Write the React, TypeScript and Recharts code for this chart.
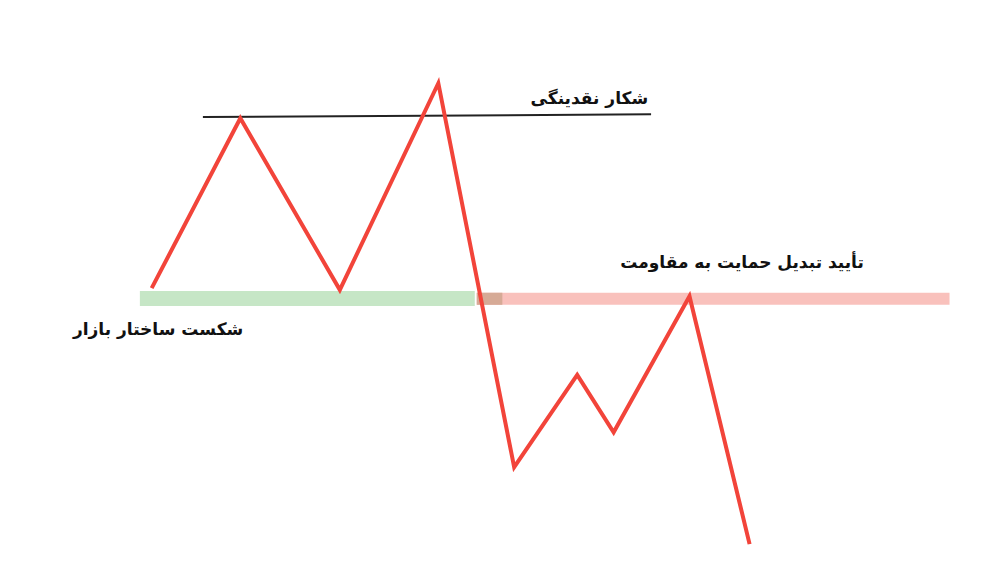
import React from 'react';
import { ComposedChart, Line, Scatter, XAxis, YAxis, ReferenceArea } from 'recharts';

// price path (time index, price)
const pathTimes = [15.4, 24.4, 34.5, 44.5, 52.2, 58.6, 62.3, 70.0, 76.1];
const pathPrices = [49.8, 79.4, 49.5, 85.5, 18.6, 34.7, 24.7, 48.4, 5.2];

// liquidity level drawn over the two highs
const liquidityTimes = [20.6, 66.1];
const liquidityPrices = [79.6, 80.1];

// structure zone: support (green) then resistance (red)
const supportZone = { x1: 14.2, x2: 48.2, y1: 46.7, y2: 49.3 };
const resistanceZone = { x1: 48.4, x2: 96.4, y1: 46.9, y2: 49.0 };
const overlapZone = { x1: 48.4, x2: 51.0, y1: 46.9, y2: 49.0 };

const labelTexts = ['شکار نقدینگی', 'تأیید تبدیل حمایت به مقاومت', 'شکست ساختار بازار'];
const labelTimes = [65.8, 87.7, 24.7];
const labelPrices = [81.9, 53.3, 41.6];

const pathData = pathTimes.map((t, i) => ({ t, price: pathPrices[i] }));
const liquidityData = liquidityTimes.map((t, i) => ({ t, price: liquidityPrices[i] }));
const labelData = labelTexts.map((text, i) => ({ t: labelTimes[i], price: labelPrices[i], text }));

const TextMark = (props: any) => {
  const { cx, cy, payload } = props;
  return (
    <text
      x={cx}
      y={cy}
      textAnchor="end"
      fontSize={17}
      fontWeight="bold"
      fontFamily="'DejaVu Sans', 'Noto Sans', sans-serif"
      fill="#111"
    >
      {payload.text}
    </text>
  );
};

export default function App() {
  return (
    <div style={{ position: 'absolute', left: 0, top: 0, background: '#fff' }}>
      <ComposedChart width={985} height={574} margin={{ top: 0, right: 0, bottom: 0, left: 0 }}>
        <XAxis type="number" dataKey="t" domain={[0, 100]} hide allowDataOverflow />
        <YAxis type="number" dataKey="price" domain={[0, 100]} hide allowDataOverflow />
        <ReferenceArea {...supportZone} fill="#c6e6c6" fillOpacity={1} stroke="none" />
        <ReferenceArea {...resistanceZone} fill="#f9c1bc" fillOpacity={1} stroke="none" />
        <ReferenceArea {...overlapZone} fill="#d6aa96" fillOpacity={1} stroke="none" />
        <Line
          data={liquidityData}
          dataKey="price"
          stroke="#222"
          strokeWidth={2}
          dot={false}
          activeDot={false}
          isAnimationActive={false}
        />
        <Line
          data={pathData}
          dataKey="price"
          stroke="#f2443a"
          strokeWidth={4}
          strokeLinejoin="miter"
          dot={false}
          activeDot={false}
          isAnimationActive={false}
        />
        <Scatter data={labelData} dataKey="price" shape={TextMark} isAnimationActive={false} />
      </ComposedChart>
    </div>
  );
}
